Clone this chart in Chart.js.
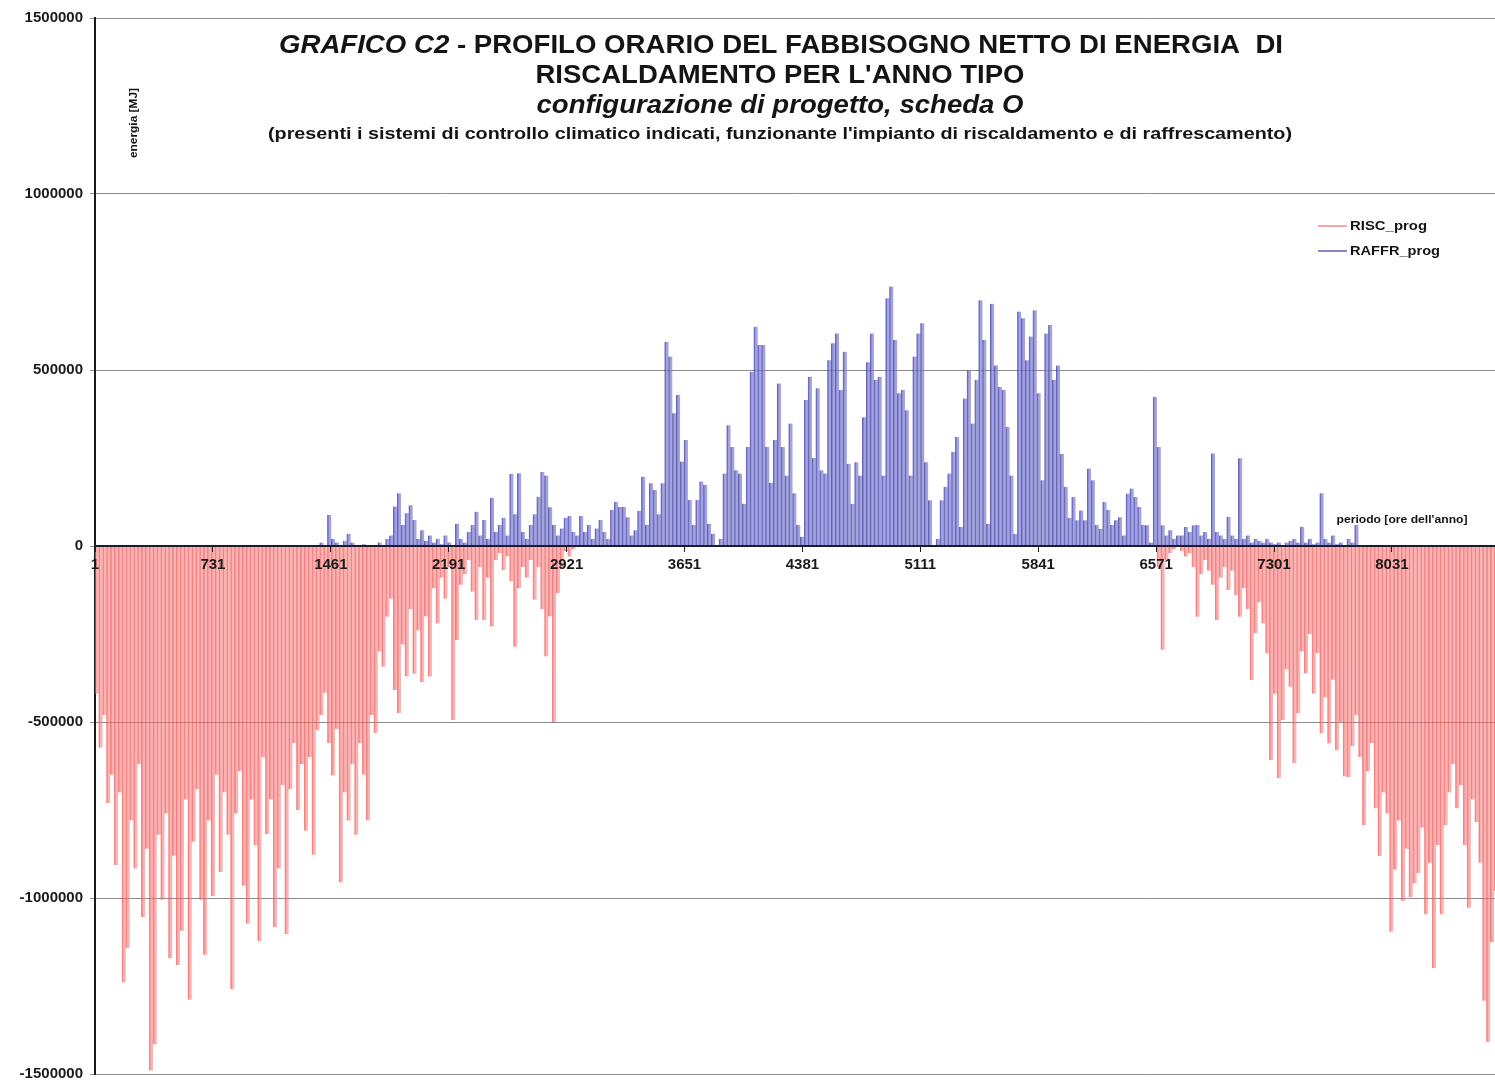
<!DOCTYPE html>
<html lang="it">
<head>
<meta charset="utf-8">
<title>Grafico C2 - profilo orario del fabbisogno netto di energia</title>
<script src="https://cdn.jsdelivr.net/npm/chart.js@4.4.1/dist/chart.umd.min.js"></script>
<style>
  html, body { margin: 0; padding: 0; background: #fff; }
</style>
</head>
<body>
<canvas id="grafico" width="1495" height="1082"></canvas>
<script>
// etichette dell'asse del periodo (ore dell'anno)
const oreEtichette = [1, 731, 1461, 2191, 2921, 3651, 4381, 5111, 5841, 6571, 7301, 8031];
const energiaTicks = [-1500000, -1000000, -500000, 0, 500000, 1000000, 1500000];

// picchi giornalieri del fabbisogno, in migliaia di MJ
// riscaldamento: gennaio - aprile
const riscInizioGiorno = 0;
const riscInverno = [
  -420, -573, -480, -730, -650, -906, -700, -1240, -1142, -780,
  -916, -620, -1054, -860, -1490, -1416, -820, -1005, -760, -1171,
  -880, -1190, -1093, -720, -1289, -840, -690, -1005, -1161, -780,
  -995, -650, -926, -700, -820, -1259, -760, -640, -965, -1073,
  -720, -850, -1122, -600, -818, -720, -1083, -916, -680, -1103,
  -691, -560, -750, -620, -809, -600, -877, -524, -480, -417,
  -560, -652, -520, -956, -700, -780, -620, -820, -560, -650,
  -780, -480, -531, -300, -343, -201, -150, -409, -475, -280,
  -371, -180, -363, -240, -387, -200, -371, -120, -220, -90,
  -150, -60, -494, -267, -110, -80, -40, -130, -210, -60,
  -210, -90, -229, -40, -20, -68, -30, -100, -286, -120,
  -60, -90, -40, -153, -60, -180, -314, -200, -500, -134,
  -60, -14, -30, -10
];
// riscaldamento: ottobre - dicembre
const riscAutunnoGiorno = 274;
const riscAutunno = [
  -60, -295, -40, -20, -10, 0, -15, -30, -20, -60,
  -201, -80, -40, -70, -110, -210, -90, -60, -125, -70,
  -140, -201, -120, -180, -381, -248, -160, -220, -305, -608,
  -420, -660, -494, -350, -400, -617, -475, -300, -362, -250,
  -420, -305, -532, -430, -561, -380, -580, -500, -655, -657,
  -569, -480, -600, -793, -640, -560, -745, -881, -700, -760,
  -1096, -920, -780, -1008, -860, -998, -959, -930, -800, -1047,
  -900, -1199, -850, -1047, -793, -700, -620, -745, -680, -850,
  -1028, -720, -784, -900, -1292, -1409, -1126, -980
];
// raffrescamento
const raffrInizioGiorno = 56;
const raffrEstate = [
  0, 0, 10, 0, 88, 20, 10, 0, 15, 35,
  10, 0, 0, 5, 0, 0, 0, 10, 0, 20,
  30, 112, 150, 60, 93, 116, 74, 20, 45, 15,
  30, 10, 20, 5, 30, 10, 0, 63, 20, 10,
  40, 60, 97, 30, 74, 20, 137, 40, 60, 80,
  30, 205, 90, 207, 40, 20, 60, 90, 140, 210,
  200, 110, 60, 30, 50, 80, 85, 40, 30, 85,
  40, 60, 20, 50, 74, 40, 20, 102, 125, 111,
  111, 82, 30, 45, 100, 197, 60, 178, 159, 90,
  178, 580, 538, 377, 429, 240, 301, 131, 60, 131,
  183, 173, 63, 35, 0, 20, 206, 343, 281, 215,
  206, 120, 281, 495, 623, 571, 571, 281, 180, 301,
  462, 281, 200, 348, 150, 60, 26, 415, 481, 250,
  448, 215, 206, 528, 576, 604, 443, 552, 234, 120,
  238, 200, 366, 522, 604, 472, 481, 200, 704, 737,
  585, 434, 443, 386, 200, 538, 604, 633, 238, 130,
  0, 20, 130, 168, 206, 267, 310, 54, 419, 499,
  348, 472, 698, 585, 63, 688, 513, 452, 443, 338,
  200, 34, 666, 647, 528, 595, 670, 434, 187, 604,
  628, 472, 513, 262, 168, 80, 139, 73, 101, 73,
  220, 187, 60, 49, 125, 102, 60, 73, 82, 30,
  149, 163, 139, 111, 60, 59, 10, 424, 281, 59,
  30, 45, 20, 30, 30, 54, 40, 59, 60, 30,
  40, 20, 263, 40, 30, 20, 83, 30, 20, 249,
  20, 30, 10, 20, 15, 10, 20, 10, 5, 10,
  0, 10, 15, 20, 10, 55, 10, 20, 5, 10,
  150, 20, 10, 30, 5, 10, 0, 20, 10, 60
];

// un punto per giorno, posto a metà giornata, valori in MJ
function puntiGiornalieri(giorno0, valori) {
  return valori.map((v, i) => ({ x: (giorno0 + i) * 24 + 12, y: v * 1000 }));
}

const FONT = '"Liberation Sans", Arial, sans-serif';
const coloreRisc = 'rgba(248, 122, 122, 0.56)';
const bordoRisc = 'rgba(232, 64, 64, 0.62)';
const coloreRaffr = 'rgba(124, 124, 212, 0.7)';
const bordoRaffr = 'rgba(44, 44, 148, 0.72)';

// scrive una riga (anche con stili misti) adattandola a una larghezza data
function scriviAdattato(ctx, pezzi, cx, base, larghezza) {
  let tot = 0;
  pezzi.forEach(p => { ctx.font = p.f; p.w = ctx.measureText(p.t).width; tot += p.w; });
  ctx.save();
  ctx.translate(cx - larghezza / 2, base);
  ctx.scale(larghezza / tot, 1);
  let x = 0;
  pezzi.forEach(p => { ctx.font = p.f; ctx.fillText(p.t, x, 0); x += p.w; });
  ctx.restore();
}

const testiGrafico = {
  id: 'testiGrafico',
  afterDraw(chart) {
    const ctx = chart.ctx;
    ctx.save();
    ctx.fillStyle = '#141414';
    ctx.textAlign = 'left';
    ctx.textBaseline = 'alphabetic';

    scriviAdattato(ctx, [
      { t: 'GRAFICO C2', f: 'italic bold 25px ' + FONT },
      { t: ' - PROFILO ORARIO DEL FABBISOGNO NETTO DI ENERGIA  DI', f: 'bold 25px ' + FONT }
    ], 781, 53, 1004);
    scriviAdattato(ctx, [{ t: 'RISCALDAMENTO PER L\'ANNO TIPO', f: 'bold 25px ' + FONT }], 780, 83, 489);
    scriviAdattato(ctx, [{ t: 'configurazione di progetto, scheda O', f: 'italic bold 25px ' + FONT }], 780, 113, 487);
    scriviAdattato(ctx, [{
      t: '(presenti i sistemi di controllo climatico indicati, funzionante l\'impianto di riscaldamento e di raffrescamento)',
      f: 'bold 16px ' + FONT
    }], 780, 139, 1024);

    // titolo verticale dell'asse delle energie
    ctx.save();
    ctx.translate(133, 123);
    ctx.rotate(-Math.PI / 2);
    scriviAdattato(ctx, [{ t: 'energia [MJ]', f: 'bold 10px ' + FONT }], 0, 4, 70);
    ctx.restore();

    scriviAdattato(ctx, [{ t: 'periodo [ore dell\'anno]', f: 'bold 11px ' + FONT }], 1402, 523, 131);

    // legenda
    const voci = [
      { y: 226, colore: '#f08a8a', larg: 77 },
      { y: 251, colore: '#5c5cb4', larg: 90 }
    ];
    chart.data.datasets.forEach((ds, i) => {
      const v = voci[i];
      ctx.strokeStyle = v.colore;
      ctx.lineWidth = 1.5;
      ctx.beginPath();
      ctx.moveTo(1318, v.y);
      ctx.lineTo(1347, v.y);
      ctx.stroke();
      scriviAdattato(ctx, [{ t: ds.label, f: 'bold 12px ' + FONT }], 1350 + v.larg / 2, v.y + 4, v.larg);
    });
    ctx.restore();
  }
};

new Chart(document.getElementById('grafico'), {
  type: 'bar',
  data: {
    datasets: [
      {
        label: 'RISC_prog',
        data: puntiGiornalieri(riscInizioGiorno, riscInverno).concat(puntiGiornalieri(riscAutunnoGiorno, riscAutunno)),
        backgroundColor: coloreRisc,
        borderColor: bordoRisc,
        borderWidth: { left: 1, right: 0, top: 0, bottom: 0 },
        barPercentage: 1,
        categoryPercentage: 1,
        grouped: false
      },
      {
        label: 'RAFFR_prog',
        data: puntiGiornalieri(raffrInizioGiorno, raffrEstate),
        backgroundColor: coloreRaffr,
        borderColor: bordoRaffr,
        borderWidth: { left: 1, right: 0, top: 0, bottom: 0 },
        barPercentage: 1,
        categoryPercentage: 1,
        grouped: false
      }
    ]
  },
  options: {
    responsive: false,
    animation: false,
    devicePixelRatio: 1,
    layout: { padding: { top: 18, right: 0, bottom: 8, left: 0 } },
    plugins: {
      legend: { display: false },
      tooltip: { enabled: false }
    },
    scales: {
      x: {
        type: 'linear',
        min: 1,
        max: 8669,
        offset: false,
        position: { y: 0 },
        afterBuildTicks: s => { s.ticks = oreEtichette.map(v => ({ value: v })); },
        grid: { drawOnChartArea: false, offset: false, color: '#222', tickLength: 5, z: 1 },
        border: { color: '#1c1c2c', width: 2, z: 1 },
        ticks: {
          z: 1,
          autoSkip: false,
          maxRotation: 0,
          padding: 5,
          color: '#1a1a1a',
          font: { family: FONT, size: 15, weight: 'bold' },
          callback: v => String(v)
        }
      },
      y: {
        min: -1500000,
        max: 1500000,
        afterBuildTicks: s => { s.ticks = energiaTicks.map(v => ({ value: v })); },
        afterFit: s => { s.width = 95; s.paddingTop = 0; s.paddingBottom = 0; },
        grid: { color: '#8c8c8c', lineWidth: 1, tickLength: 5 },
        border: { color: '#1c1c1c', width: 2 },
        ticks: {
          padding: 7,
          color: '#1a1a1a',
          font: { family: FONT, size: 15, weight: 'bold' },
          callback: v => String(v)
        }
      }
    }
  },
  plugins: [testiGrafico]
});
</script>
</body>
</html>
